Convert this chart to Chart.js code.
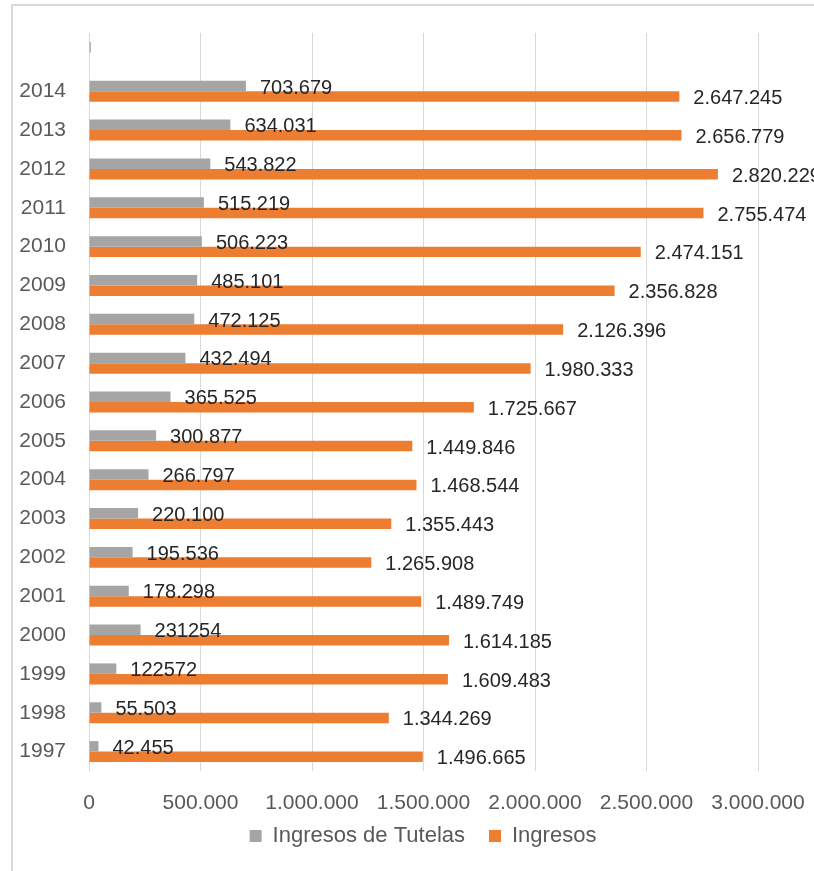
<!DOCTYPE html>
<html>
<head>
<meta charset="utf-8">
<script src="https://cdn.jsdelivr.net/npm/chart.js@4"></script>
<style>
  html, body { margin: 0; padding: 0; background: #fff; overflow: hidden; }
  #frame { position: absolute; left: 11px; top: 4px; width: 900px; height: 900px; border: 2px solid #d9d9d9; }
  #wrap { position: absolute; left: 0; top: 0; width: 900px; height: 871px; }
</style>
</head>
<body>
<div id="frame"></div>
<div id="wrap"><canvas id="chart"></canvas></div>
<script>
// categories top to bottom (first one is the empty slot above 2014)
const years = ['', '2014', '2013', '2012', '2011', '2010', '2009', '2008', '2007', '2006',
  '2005', '2004', '2003', '2002', '2001', '2000', '1999', '1998', '1997'];

const tutelas = [8000, 703679, 634031, 543822, 515219, 506223, 485101, 472125, 432494, 365525,
  300877, 266797, 220100, 195536, 178298, 231254, 122572, 55503, 42455];
const tutelasText = ['', '703.679', '634.031', '543.822', '515.219', '506.223', '485.101', '472.125',
  '432.494', '365.525', '300.877', '266.797', '220.100', '195.536', '178.298', '231254', '122572',
  '55.503', '42.455'];

const ingresos = [null, 2647245, 2656779, 2820229, 2755474, 2474151, 2356828, 2126396, 1980333, 1725667,
  1449846, 1468544, 1355443, 1265908, 1489749, 1614185, 1609483, 1344269, 1496665];
const ingresosText = ['', '2.647.245', '2.656.779', '2.820.229', '2.755.474', '2.474.151', '2.356.828',
  '2.126.396', '1.980.333', '1.725.667', '1.449.846', '1.468.544', '1.355.443', '1.265.908',
  '1.489.749', '1.614.185', '1.609.483', '1.344.269', '1.496.665'];

const FONT = "'Liberation Sans', Arial, sans-serif";

// draws the value text just past the end of each bar
const barLabels = {
  id: 'barLabels',
  afterDatasetsDraw(chart) {
    const ctx = chart.ctx;
    ctx.save();
    ctx.font = '20px ' + FONT;
    ctx.fillStyle = '#262626';
    ctx.textAlign = 'left';
    ctx.textBaseline = 'middle';
    chart.data.datasets.forEach((ds, i) => {
      const meta = chart.getDatasetMeta(i);
      meta.data.forEach((bar, j) => {
        const txt = ds.labelsText[j];
        if (!txt) return;
        ctx.fillText(txt, bar.x + 14, bar.y + 2);
      });
    });
    ctx.restore();
  }
};

// legend in the original sits right of the plot centre and a bit higher
const legendShift = {
  id: 'legendShift',
  afterLayout(chart) {
    const lg = chart.legend;
    lg.left += 44;
    lg.right += 44;
    lg.top -= 14;
    lg.bottom -= 14;
  }
};

new Chart(document.getElementById('chart'), {
  type: 'bar',
  data: {
    labels: years,
    datasets: [
      {
        label: 'Ingresos de Tutelas',
        data: tutelas,
        labelsText: tutelasText,
        backgroundColor: '#a5a5a5',
        barPercentage: 1,
        categoryPercentage: 0.54
      },
      {
        label: 'Ingresos',
        data: ingresos,
        labelsText: ingresosText,
        backgroundColor: '#ed7d31',
        barPercentage: 1,
        categoryPercentage: 0.54
      }
    ]
  },
  options: {
    indexAxis: 'y',
    responsive: true,
    maintainAspectRatio: false,
    animation: false,
    layout: { padding: { left: 0, top: 33, right: 142, bottom: 0 } },
    scales: {
      x: {
        min: 0,
        max: 3000000,
        ticks: {
          stepSize: 500000,
          padding: 20,
          color: '#595959',
          font: { family: FONT, size: 21 },
          callback: v => v === 0 ? '0' : v.toLocaleString('de-DE')
        },
        grid: { color: '#d9d9d9', drawTicks: false },
        border: { display: false },
        afterFit(scale) { scale.height = 44; }
      },
      y: {
        ticks: {
          padding: 23,
          color: '#595959',
          font: { family: FONT, size: 21 }
        },
        grid: { display: false, drawTicks: false },
        border: { display: true, color: '#d9d9d9' },
        afterFit(scale) {
          scale.width = 89;
          scale.paddingTop = 0;
          scale.paddingBottom = 0;
        }
      }
    },
    plugins: {
      legend: {
        position: 'bottom',
        labels: {
          boxWidth: 12,
          boxHeight: 12,
          color: '#595959',
          font: { family: FONT, size: 22 },
          padding: 24
        }
      },
      tooltip: { enabled: false }
    }
  },
  plugins: [barLabels, legendShift]
});
</script>
</body>
</html>
